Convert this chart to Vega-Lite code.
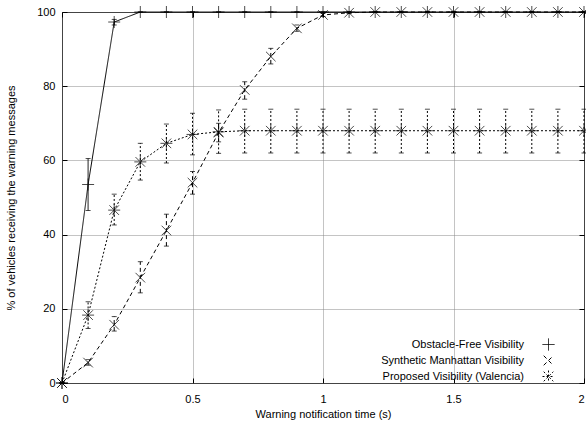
{
  "$schema": "https://vega.github.io/schema/vega-lite/v6.json",
  "width": 522,
  "height": 371,
  "autosize": {"type": "none"},
  "padding": {"left": 62, "top": 12, "right": 2, "bottom": 38},
  "background": "white",
  "config": {
    "font": "Liberation Sans",
    "view": {"stroke": "black", "strokeWidth": 1},
    "axis": {
      "domain": false,
      "labelFont": "Liberation Sans",
      "labelFontSize": 11,
      "labelColor": "black",
      "titleFont": "Liberation Sans",
      "titleFontSize": 11,
      "titleFontWeight": "normal",
      "titleColor": "black",
      "tickColor": "black",
      "tickSize": -5,
      "gridColor": "#888",
      "gridDash": [1, 1],
      "gridWidth": 1
    }
  },
  "data": {
    "values": [
      {"series": "Obstacle-Free Visibility", "x": 0, "y": 0, "lo": 0, "hi": 0},
      {"series": "Obstacle-Free Visibility", "x": 0.1, "y": 53.5, "lo": 46.5, "hi": 60.5},
      {"series": "Obstacle-Free Visibility", "x": 0.2, "y": 97.3, "lo": 96.5, "hi": 98},
      {"series": "Obstacle-Free Visibility", "x": 0.3, "y": 100, "lo": 100, "hi": 100},
      {"series": "Obstacle-Free Visibility", "x": 0.4, "y": 100, "lo": 100, "hi": 100},
      {"series": "Obstacle-Free Visibility", "x": 0.5, "y": 100, "lo": 100, "hi": 100},
      {"series": "Obstacle-Free Visibility", "x": 0.6, "y": 100, "lo": 100, "hi": 100},
      {"series": "Obstacle-Free Visibility", "x": 0.7, "y": 100, "lo": 100, "hi": 100},
      {"series": "Obstacle-Free Visibility", "x": 0.8, "y": 100, "lo": 100, "hi": 100},
      {"series": "Obstacle-Free Visibility", "x": 0.9, "y": 100, "lo": 100, "hi": 100},
      {"series": "Obstacle-Free Visibility", "x": 1.0, "y": 100, "lo": 100, "hi": 100},
      {"series": "Obstacle-Free Visibility", "x": 1.1, "y": 100, "lo": 100, "hi": 100},
      {"series": "Obstacle-Free Visibility", "x": 1.2, "y": 100, "lo": 100, "hi": 100},
      {"series": "Obstacle-Free Visibility", "x": 1.3, "y": 100, "lo": 100, "hi": 100},
      {"series": "Obstacle-Free Visibility", "x": 1.4, "y": 100, "lo": 100, "hi": 100},
      {"series": "Obstacle-Free Visibility", "x": 1.5, "y": 100, "lo": 100, "hi": 100},
      {"series": "Obstacle-Free Visibility", "x": 1.6, "y": 100, "lo": 100, "hi": 100},
      {"series": "Obstacle-Free Visibility", "x": 1.7, "y": 100, "lo": 100, "hi": 100},
      {"series": "Obstacle-Free Visibility", "x": 1.8, "y": 100, "lo": 100, "hi": 100},
      {"series": "Obstacle-Free Visibility", "x": 1.9, "y": 100, "lo": 100, "hi": 100},
      {"series": "Obstacle-Free Visibility", "x": 2.0, "y": 100, "lo": 100, "hi": 100},
      {"series": "Synthetic Manhattan Visibility", "x": 0, "y": 0, "lo": 0, "hi": 0},
      {"series": "Synthetic Manhattan Visibility", "x": 0.1, "y": 5.5, "lo": 4.8, "hi": 6.3},
      {"series": "Synthetic Manhattan Visibility", "x": 0.2, "y": 15.7, "lo": 14, "hi": 17.9},
      {"series": "Synthetic Manhattan Visibility", "x": 0.3, "y": 28.4, "lo": 24.3, "hi": 32.7},
      {"series": "Synthetic Manhattan Visibility", "x": 0.4, "y": 41.1, "lo": 36.9, "hi": 45.5},
      {"series": "Synthetic Manhattan Visibility", "x": 0.5, "y": 54, "lo": 50.9, "hi": 57},
      {"series": "Synthetic Manhattan Visibility", "x": 0.6, "y": 67.5, "lo": 65, "hi": 70},
      {"series": "Synthetic Manhattan Visibility", "x": 0.7, "y": 79, "lo": 76.5, "hi": 81.2},
      {"series": "Synthetic Manhattan Visibility", "x": 0.8, "y": 88, "lo": 86, "hi": 90.2},
      {"series": "Synthetic Manhattan Visibility", "x": 0.9, "y": 95.6, "lo": 94.8, "hi": 96.5},
      {"series": "Synthetic Manhattan Visibility", "x": 1.0, "y": 99.2, "lo": 98.8, "hi": 99.6},
      {"series": "Synthetic Manhattan Visibility", "x": 1.1, "y": 99.8, "lo": 99.6, "hi": 100},
      {"series": "Synthetic Manhattan Visibility", "x": 1.2, "y": 100, "lo": 100, "hi": 100},
      {"series": "Synthetic Manhattan Visibility", "x": 1.3, "y": 100, "lo": 100, "hi": 100},
      {"series": "Synthetic Manhattan Visibility", "x": 1.4, "y": 100, "lo": 100, "hi": 100},
      {"series": "Synthetic Manhattan Visibility", "x": 1.5, "y": 100, "lo": 100, "hi": 100},
      {"series": "Synthetic Manhattan Visibility", "x": 1.6, "y": 100, "lo": 100, "hi": 100},
      {"series": "Synthetic Manhattan Visibility", "x": 1.7, "y": 100, "lo": 100, "hi": 100},
      {"series": "Synthetic Manhattan Visibility", "x": 1.8, "y": 100, "lo": 100, "hi": 100},
      {"series": "Synthetic Manhattan Visibility", "x": 1.9, "y": 100, "lo": 100, "hi": 100},
      {"series": "Synthetic Manhattan Visibility", "x": 2.0, "y": 100, "lo": 100, "hi": 100},
      {"series": "Proposed Visibility (Valencia)", "x": 0, "y": 0, "lo": 0, "hi": 0},
      {"series": "Proposed Visibility (Valencia)", "x": 0.1, "y": 18.3, "lo": 14.7, "hi": 21.9},
      {"series": "Proposed Visibility (Valencia)", "x": 0.2, "y": 46.6, "lo": 42.6, "hi": 50.9},
      {"series": "Proposed Visibility (Valencia)", "x": 0.3, "y": 59.6, "lo": 54.7, "hi": 64.6},
      {"series": "Proposed Visibility (Valencia)", "x": 0.4, "y": 64.6, "lo": 59.3, "hi": 69.8},
      {"series": "Proposed Visibility (Valencia)", "x": 0.5, "y": 67, "lo": 61.5, "hi": 72.7},
      {"series": "Proposed Visibility (Valencia)", "x": 0.6, "y": 67.7, "lo": 61.9, "hi": 73.6},
      {"series": "Proposed Visibility (Valencia)", "x": 0.7, "y": 68, "lo": 62, "hi": 73.8},
      {"series": "Proposed Visibility (Valencia)", "x": 0.8, "y": 68, "lo": 62, "hi": 73.8},
      {"series": "Proposed Visibility (Valencia)", "x": 0.9, "y": 68, "lo": 62, "hi": 73.8},
      {"series": "Proposed Visibility (Valencia)", "x": 1.0, "y": 68, "lo": 62, "hi": 73.8},
      {"series": "Proposed Visibility (Valencia)", "x": 1.1, "y": 68, "lo": 62, "hi": 73.8},
      {"series": "Proposed Visibility (Valencia)", "x": 1.2, "y": 68, "lo": 62, "hi": 73.8},
      {"series": "Proposed Visibility (Valencia)", "x": 1.3, "y": 68, "lo": 62, "hi": 73.8},
      {"series": "Proposed Visibility (Valencia)", "x": 1.4, "y": 68, "lo": 62, "hi": 73.8},
      {"series": "Proposed Visibility (Valencia)", "x": 1.5, "y": 68, "lo": 62, "hi": 73.8},
      {"series": "Proposed Visibility (Valencia)", "x": 1.6, "y": 68, "lo": 62, "hi": 73.8},
      {"series": "Proposed Visibility (Valencia)", "x": 1.7, "y": 68, "lo": 62, "hi": 73.8},
      {"series": "Proposed Visibility (Valencia)", "x": 1.8, "y": 68, "lo": 62, "hi": 73.8},
      {"series": "Proposed Visibility (Valencia)", "x": 1.9, "y": 68, "lo": 62, "hi": 73.8},
      {"series": "Proposed Visibility (Valencia)", "x": 2.0, "y": 68, "lo": 62, "hi": 73.8}
    ]
  },
  "resolve": {
    "scale": {"x": "independent", "y": "independent"},
    "axis": {"x": "independent", "y": "independent"}
  },
  "layer": [
    {
      "mark": {"type": "line", "color": "black", "strokeWidth": 1},
      "encoding": {
        "x": {"field": "x", "type": "quantitative", "scale": {"domain": [0, 2], "nice": false},
          "axis": {"orient": "bottom", "values": [0, 0.5, 1, 1.5, 2], "format": "~g", "title": "Warning notification time (s)", "labelPadding": 15, "titlePadding": 4, "grid": true}},
        "y": {"field": "y", "type": "quantitative", "scale": {"domain": [0, 100], "nice": false},
          "axis": {"orient": "left", "values": [0, 20, 40, 60, 80, 100], "title": "% of vehicles receiving the warning messages", "labelPadding": 12, "titlePadding": 20, "grid": true}},
        "detail": {"field": "series"},
        "strokeDash": {"field": "series", "type": "nominal",
          "scale": {"domain": ["Obstacle-Free Visibility", "Synthetic Manhattan Visibility", "Proposed Visibility (Valencia)"], "range": [[1, 0], [4, 3], [2, 2]]}}
      }
    },
    {
      "mark": {"type": "rule", "color": "black", "strokeWidth": 1},
      "encoding": {
        "x": {"field": "x", "type": "quantitative", "scale": {"domain": [0, 2], "nice": false}, "axis": null},
        "y": {"field": "lo", "type": "quantitative", "scale": {"domain": [0, 100], "nice": false}, "axis": null},
        "y2": {"field": "hi"},
        "strokeDash": {"field": "series", "type": "nominal"}
      }
    },
    {
      "mark": {"type": "tick", "orient": "horizontal", "color": "black", "size": 5, "thickness": 1},
      "encoding": {
        "x": {"field": "x", "type": "quantitative", "scale": {"domain": [0, 2], "nice": false}, "axis": null},
        "y": {"field": "lo", "type": "quantitative", "scale": {"domain": [0, 100], "nice": false}, "axis": null}
      }
    },
    {
      "mark": {"type": "tick", "orient": "horizontal", "color": "black", "size": 5, "thickness": 1},
      "encoding": {
        "x": {"field": "x", "type": "quantitative", "scale": {"domain": [0, 2], "nice": false}, "axis": null},
        "y": {"field": "hi", "type": "quantitative", "scale": {"domain": [0, 100], "nice": false}, "axis": null}
      }
    },
    {
      "mark": {"type": "point", "filled": false, "color": "black", "strokeWidth": 1, "size": 144},
      "encoding": {
        "x": {"field": "x", "type": "quantitative", "scale": {"domain": [0, 2], "nice": false}, "axis": null},
        "y": {"field": "y", "type": "quantitative", "scale": {"domain": [0, 100], "nice": false}, "axis": null},
        "shape": {"field": "series", "type": "nominal",
          "scale": {"domain": ["Obstacle-Free Visibility", "Synthetic Manhattan Visibility", "Proposed Visibility (Valencia)"],
            "range": ["M-1,0H1M0,-1V1", "M-0.8,-0.8L0.8,0.8M-0.8,0.8L0.8,-0.8", "M-1,0H1M0,-1V1M-0.8,-0.8L0.8,0.8M-0.8,0.8L0.8,-0.8"]},
          "legend": {
            "title": null,
            "orient": "none",
            "legendX": 480,
            "legendY": 326,
            "padding": 0,
            "symbolSize": 144,
            "symbolStrokeWidth": 1,
            "symbolStrokeColor": "black",
            "symbolFillColor": "transparent",
            "labelAlign": "right",
            "labelOffset": -31,
            "labelFont": "Liberation Sans",
            "labelFontSize": 11,
            "labelColor": "black",
            "labelLimit": 300,
            "rowPadding": 0
          }
        }
      }
    },
    {
      "mark": {"type": "rule", "opacity": 0},
      "encoding": {
        "x": {"datum": 0, "type": "quantitative", "scale": {"domain": [0, 2], "nice": false},
          "axis": {"orient": "top", "values": [0, 0.5, 1, 1.5, 2], "labels": false, "title": null, "grid": false}},
        "y": {"datum": 0, "type": "quantitative", "scale": {"domain": [0, 100], "nice": false},
          "axis": {"orient": "right", "values": [0, 20, 40, 60, 80, 100], "labels": false, "title": null, "grid": false}}
      }
    }
  ]
}
